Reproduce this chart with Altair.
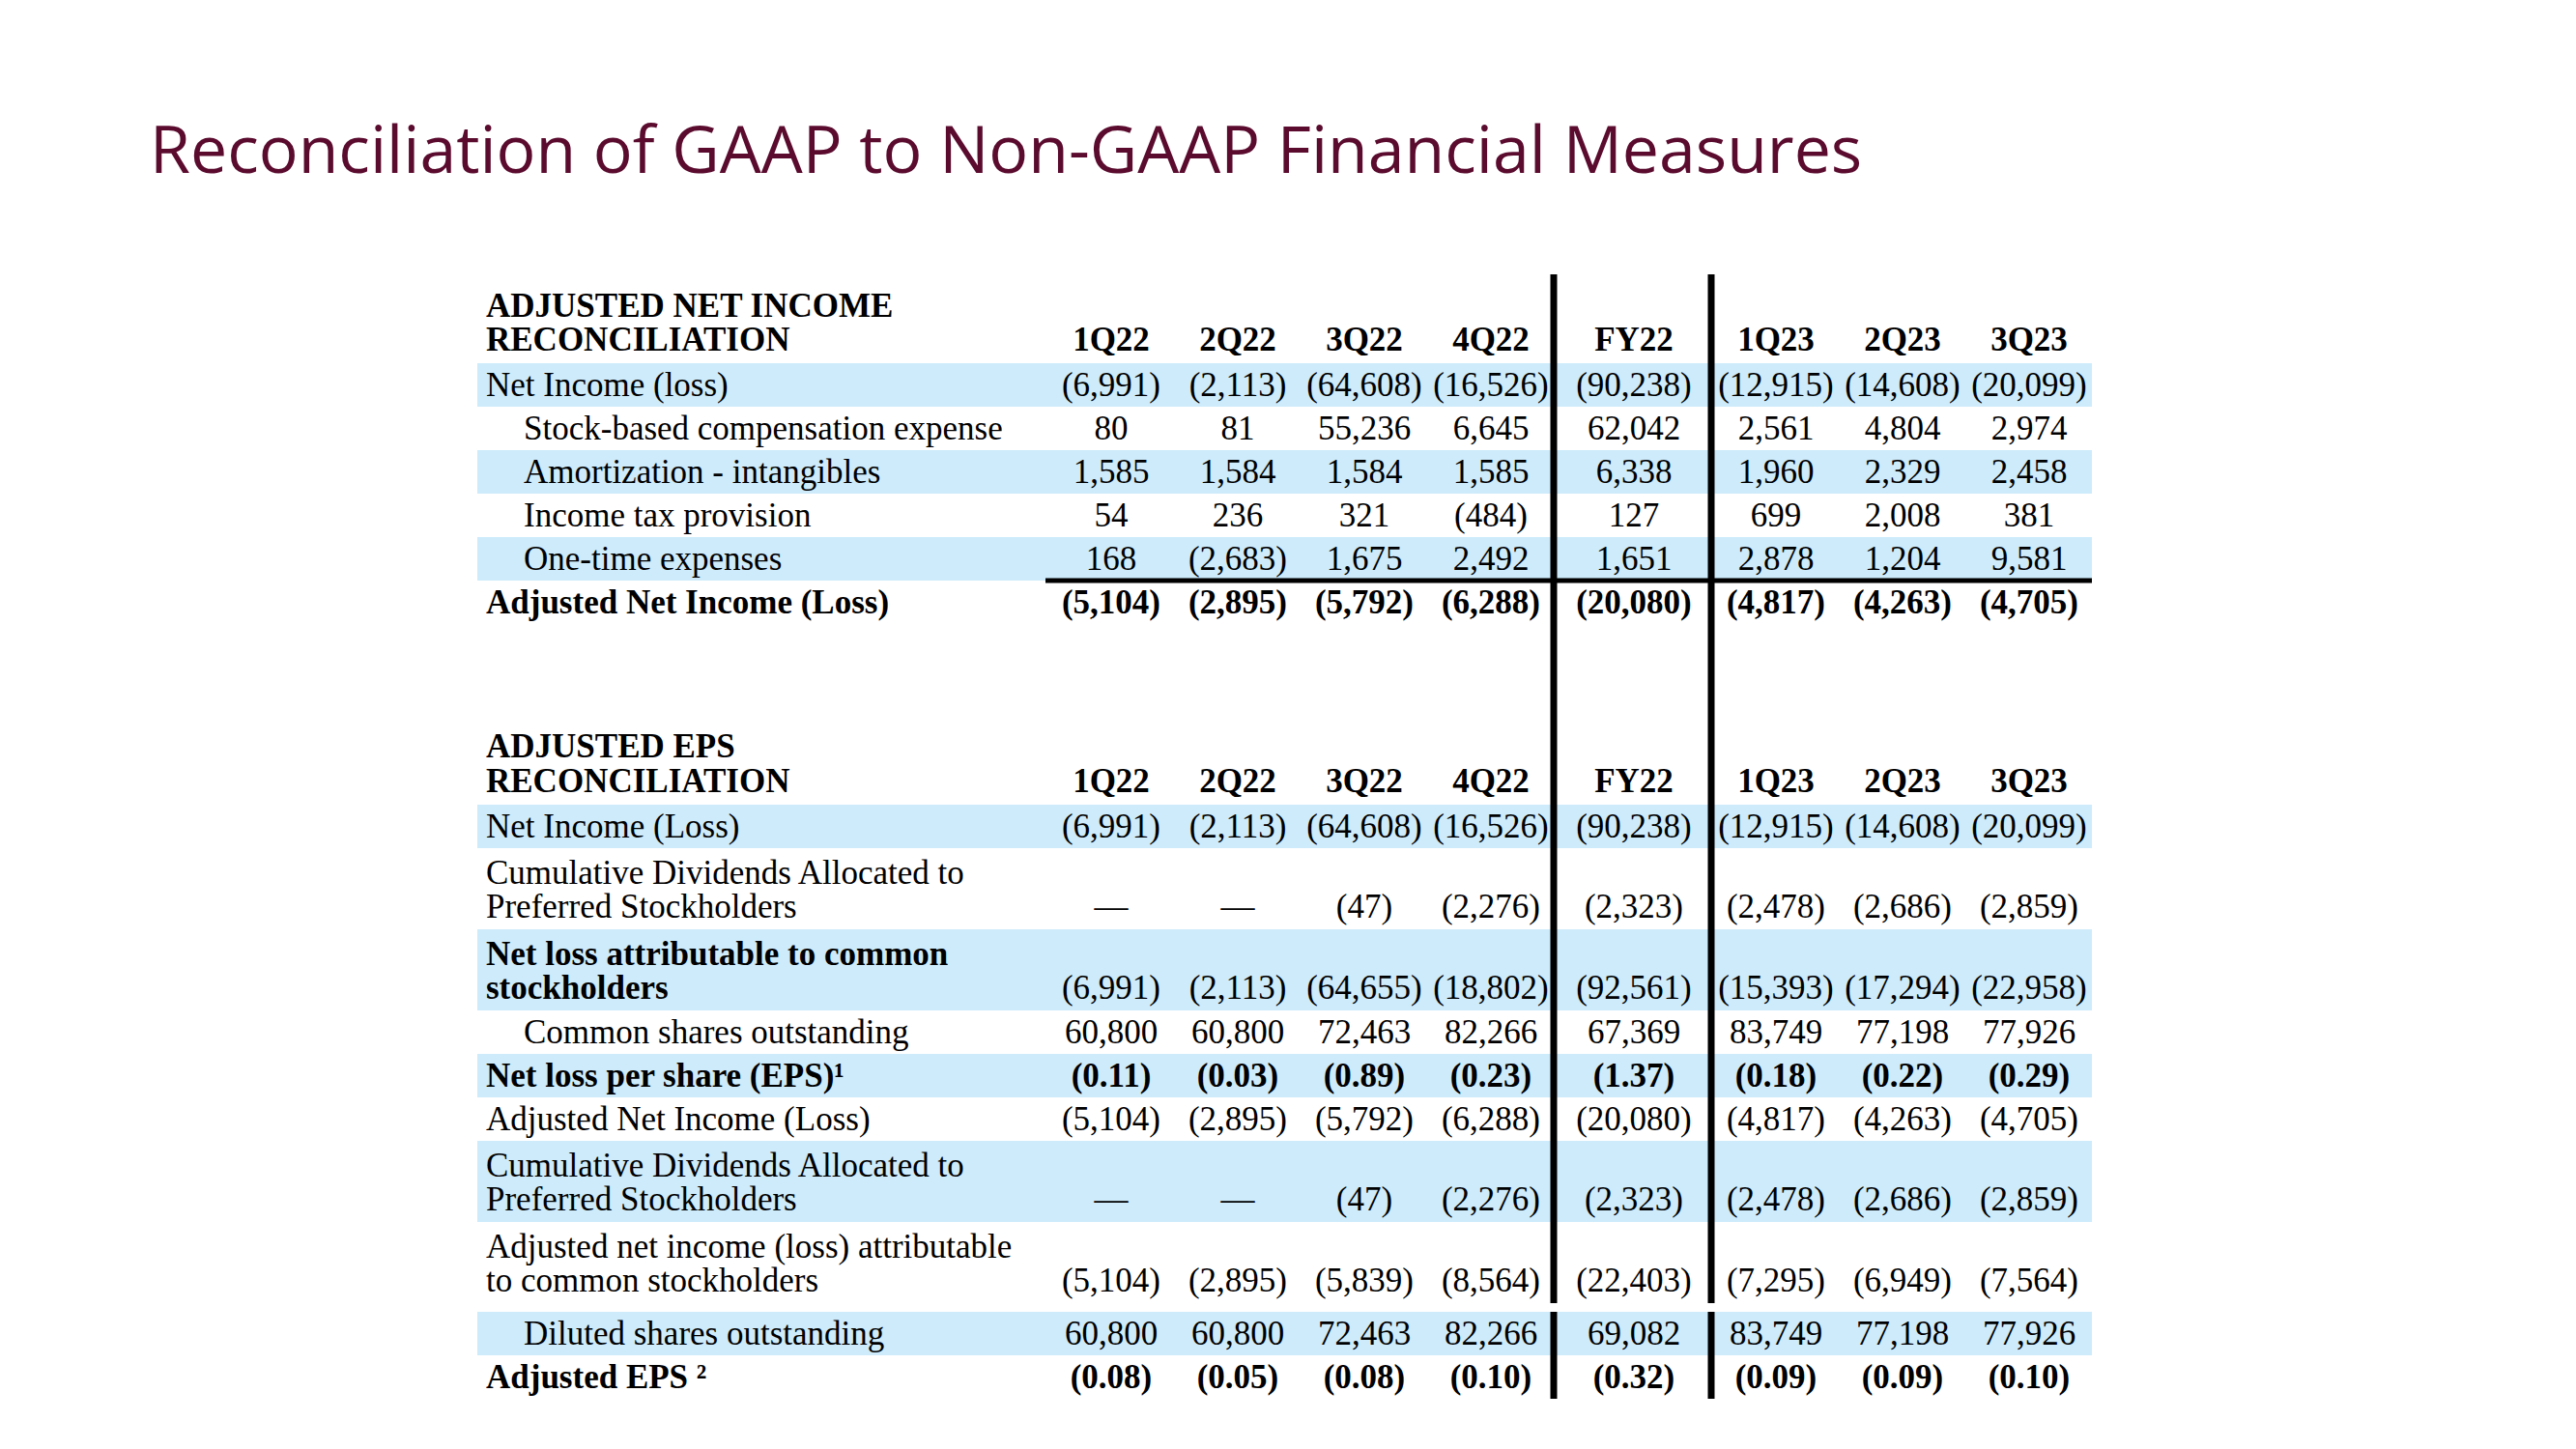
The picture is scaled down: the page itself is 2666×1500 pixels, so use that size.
import altair as alt
import pandas as pd

# ---------------- data ----------------
title_text = "Reconciliation of GAAP to Non-GAAP Financial Measures"
columns = ["1Q22", "2Q22", "3Q22", "4Q22", "FY22", "1Q23", "2Q23", "3Q23"]

top_heading = ["ADJUSTED NET INCOME", "RECONCILIATION"]
top_labels = [
    ["Net Income (loss)"],
    ["Stock-based compensation expense"],
    ["Amortization - intangibles"],
    ["Income tax provision"],
    ["One-time expenses"],
    ["Adjusted Net Income (Loss)"],
]
net_income = ["(6,991)", "(2,113)", "(64,608)", "(16,526)", "(90,238)", "(12,915)", "(14,608)", "(20,099)"]
stock_comp = ["80", "81", "55,236", "6,645", "62,042", "2,561", "4,804", "2,974"]
amortization = ["1,585", "1,584", "1,584", "1,585", "6,338", "1,960", "2,329", "2,458"]
income_tax = ["54", "236", "321", "(484)", "127", "699", "2,008", "381"]
one_time = ["168", "(2,683)", "1,675", "2,492", "1,651", "2,878", "1,204", "9,581"]
adj_net_income = ["(5,104)", "(2,895)", "(5,792)", "(6,288)", "(20,080)", "(4,817)", "(4,263)", "(4,705)"]
top_values = [net_income, stock_comp, amortization, income_tax, one_time, adj_net_income]

bot_heading = ["ADJUSTED EPS", "RECONCILIATION"]
bot_labels = [
    ["Net Income (Loss)"],
    ["Cumulative Dividends Allocated to", "Preferred Stockholders"],
    ["Net loss attributable to common", "stockholders"],
    ["Common shares outstanding"],
    ["Net loss per share (EPS)\u00b9"],
    ["Adjusted Net Income (Loss)"],
    ["Cumulative Dividends Allocated to", "Preferred Stockholders"],
    ["Adjusted net income (loss) attributable", "to common stockholders"],
    ["Diluted shares outstanding"],
    ["Adjusted EPS \u00b2"],
]
cum_dividends = ["\u2014", "\u2014", "(47)", "(2,276)", "(2,323)", "(2,478)", "(2,686)", "(2,859)"]
net_loss_common = ["(6,991)", "(2,113)", "(64,655)", "(18,802)", "(92,561)", "(15,393)", "(17,294)", "(22,958)"]
common_shares = ["60,800", "60,800", "72,463", "82,266", "67,369", "83,749", "77,198", "77,926"]
eps = ["(0.11)", "(0.03)", "(0.89)", "(0.23)", "(1.37)", "(0.18)", "(0.22)", "(0.29)"]
adj_ni_common = ["(5,104)", "(2,895)", "(5,839)", "(8,564)", "(22,403)", "(7,295)", "(6,949)", "(7,564)"]
diluted_shares = ["60,800", "60,800", "72,463", "82,266", "69,082", "83,749", "77,198", "77,926"]
adj_eps = ["(0.08)", "(0.05)", "(0.08)", "(0.10)", "(0.32)", "(0.09)", "(0.09)", "(0.10)"]
bot_values = [net_income, cum_dividends, net_loss_common, common_shares, eps,
              adj_net_income, cum_dividends, adj_ni_common, diluted_shares, adj_eps]

# row styles: (indent, label bold, values bold, shaded)
top_style = [(0, 0, 0, 1), (1, 0, 0, 0), (1, 0, 0, 1), (1, 0, 0, 0), (1, 0, 0, 1), (0, 1, 1, 0)]
bot_style = [(0, 0, 0, 1), (0, 0, 0, 0), (0, 1, 0, 1), (1, 0, 0, 0), (0, 1, 1, 1),
             (0, 0, 0, 0), (0, 0, 0, 1), (0, 0, 0, 0), (1, 0, 0, 1), (0, 1, 1, 0)]

# ---------------- layout (page pixel space) ----------------
W, H = 2650, 1484
col_x = [1150 + 131 * i for i in range(4)] + [1691] + [1838 + 131 * i for i in range(3)]
band_x0, band_x1 = 494, 2165
label_x, indent_x = 503, 542
sep_x = [1608, 1771]
SINGLE, DOUBLE, LINE_GAP = 45, 84, 35

texts, bands, vrules, hrules = [], [], [], []


def add_table(heading, head_y, labels, values, styles, start_y, gap_before=None):
    for k, h in enumerate(heading):
        texts.append(dict(x=label_x, y=head_y[k], t=h, kind="label_b"))
    for c, name in enumerate(columns):
        texts.append(dict(x=col_x[c], y=head_y[1], t=name, kind="value_b"))
    y = start_y
    tops = []
    for r, (lab, vals, st) in enumerate(zip(labels, values, styles)):
        if gap_before is not None and r == gap_before:
            y += 9
        h = SINGLE if len(lab) == 1 else DOUBLE
        tops.append((y, y + h))
        indent, lb, vb, shaded = st
        if shaded:
            bands.append(dict(x=band_x0, x2=band_x1, y=y, y2=y + h))
        if len(lab) == 1:
            ys = [y + 22.5]
        else:
            ys = [y + 26, y + 26 + LINE_GAP]
        for k, line in enumerate(lab):
            texts.append(dict(x=indent_x if indent else label_x, y=ys[k], t=line,
                              kind="label_b" if lb else "label"))
        for c, v in enumerate(vals):
            texts.append(dict(x=col_x[c], y=ys[-1], t=v, kind="value_b" if vb else "value"))
        y += h
    return tops


top_rows = add_table(top_heading, [317, 352], top_labels, top_values, top_style, 376)
bot_rows = add_table(bot_heading, [773, 809], bot_labels, bot_values, bot_style, 833, gap_before=8)

hrules.append(dict(x=1082, x2=band_x1, y=top_rows[5][0]))
for sx in sep_x:
    vrules.append(dict(x=sx, y=284, y2=bot_rows[7][1]))
    vrules.append(dict(x=sx, y=bot_rows[8][0], y2=bot_rows[9][1]))

tdf = pd.DataFrame(texts)
bdf = pd.DataFrame(bands)
vdf = pd.DataFrame(vrules)
hdf = pd.DataFrame(hrules)
title_df = pd.DataFrame([dict(x=155, y=179, t=title_text)])

xs = alt.Scale(domain=[8, 8 + W], range=[0, W], zero=False, nice=False)
ys = alt.Scale(domain=[8, 8 + H], range=[0, H], zero=False, nice=False)
X = lambda f="x": alt.X(f"{f}:Q", scale=xs, axis=None)
Y = lambda f="y": alt.Y(f"{f}:Q", scale=ys, axis=None)

FONT = "Liberation Serif"
FS = 35

band_layer = alt.Chart(bdf).mark_rect(color="#cdebfb").encode(
    x=X(), x2="x2:Q", y=Y(), y2="y2:Q")

vrule_layer = alt.Chart(vdf).mark_rule(color="#000000", strokeWidth=7).encode(
    x=X(), y=Y(), y2="y2:Q")
hrule_layer = alt.Chart(hdf).mark_rule(color="#000000", strokeWidth=5).encode(
    x=X(), x2="x2:Q", y=Y())


def text_layer(kind, align, weight):
    return alt.Chart(tdf).transform_filter(alt.datum.kind == kind).mark_text(
        font=FONT, fontSize=FS, fontWeight=weight, align=align, baseline="middle",
        color="#000000").encode(x=X(), y=Y(), text="t:N")


title_layer = alt.Chart(title_df).mark_text(
    font="Open Sans", fontSize=68, align="left", baseline="alphabetic", color="#5a0b2e"
).encode(x=X(), y=Y(), text="t:N")

chart = alt.layer(
    band_layer,
    text_layer("label", "left", "normal"),
    text_layer("label_b", "left", "bold"),
    text_layer("value", "center", "normal"),
    text_layer("value_b", "center", "bold"),
    hrule_layer,
    vrule_layer,
    title_layer,
).properties(
    width=W, height=H, padding=0, autosize=alt.AutoSizeParams(type="none"),
    background="#ffffff",
).configure_view(stroke=None)

chart.save("out.html", embed_options={"renderer": "svg", "actions": False})
